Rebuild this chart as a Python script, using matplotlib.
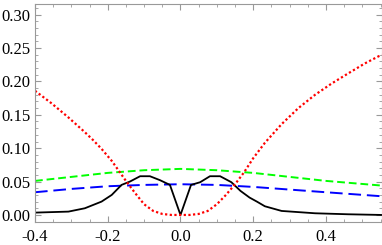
import matplotlib
matplotlib.use("Agg")
import matplotlib.pyplot as plt
from matplotlib.ticker import MultipleLocator, FormatStrFormatter

# values
x_red = [-0.4, -0.354, -0.308, -0.263, -0.24, -0.217, -0.189, -0.172, -0.15, -0.125,
         -0.1, -0.075, -0.05, -0.025, 0.0, 0.025, 0.05, 0.075, 0.1, 0.125, 0.15,
         0.175, 0.2, 0.232, 0.278, 0.324, 0.370, 0.416, 0.461, 0.507, 0.553]
y_red = [0.186, 0.167, 0.146, 0.124, 0.112, 0.099, 0.081, 0.068, 0.051, 0.033,
         0.016, 0.006, 0.0015, 0.0, 0.0, 0.0, 0.0015, 0.006, 0.016, 0.030, 0.046,
         0.064, 0.085, 0.108, 0.136, 0.160, 0.180, 0.197, 0.212, 0.227, 0.240]

x_black = [-0.4, -0.308, -0.263, -0.217, -0.189, -0.162, -0.139, -0.111, -0.084,
           -0.056, -0.029, 0.0, 0.029, 0.054, 0.081, 0.109, 0.14, 0.165, 0.19,
           0.21, 0.232, 0.278, 0.370, 0.461, 0.553]
y_black = [0.0035, 0.005, 0.010, 0.020, 0.030, 0.045, 0.050, 0.058, 0.058,
           0.052, 0.045, 0.0, 0.045, 0.049, 0.058, 0.058, 0.049, 0.036, 0.026,
           0.020, 0.013, 0.006, 0.0025, 0.001, 0.0]

x_green = [-0.4, -0.3, -0.2, -0.1, 0.0, 0.1, 0.2, 0.3, 0.4, 0.553]
y_green = [0.051, 0.057, 0.063, 0.067, 0.069, 0.067, 0.063, 0.057, 0.051, 0.044]

x_blue = [-0.4, -0.3, -0.2, -0.1, 0.0, 0.1, 0.2, 0.3, 0.4, 0.553]
y_blue = [0.034, 0.039, 0.043, 0.045, 0.046, 0.045, 0.042, 0.038, 0.034, 0.028]

plt.rcParams["font.family"] = ["Liberation Serif", "DejaVu Serif"]

fig = plt.figure(figsize=(3.82, 2.45), dpi=100)
ax = fig.add_axes([0.0916, 0.0927, 0.9074, 0.891])

ax.plot(x_green, y_green, color=(0, 1, 0), lw=1.4, dashes=(4, 2))
ax.plot(x_blue, y_blue, color=(0, 0, 1), lw=1.4, dashes=(6.5, 3))
ax.plot(x_black, y_black, color="black", lw=1.3)
ax.plot(x_red, y_red, color=(1, 0, 0), lw=1.6, dashes=(1, 1.1), dash_capstyle="butt")

ax.set_xlim(-0.4, 0.553)
ax.set_ylim(-0.011, 0.316)

ax.xaxis.set_major_locator(MultipleLocator(0.2))
ax.xaxis.set_minor_locator(MultipleLocator(0.05))
ax.yaxis.set_major_locator(MultipleLocator(0.05))
ax.yaxis.set_minor_locator(MultipleLocator(0.01))
ax.xaxis.set_major_formatter(FormatStrFormatter("%.1f"))
ax.yaxis.set_major_formatter(FormatStrFormatter("%.2f"))

ax.tick_params(which="both", direction="in", top=True, right=True,
               color="#999999", labelsize=12)
ax.tick_params(axis="x", pad=4.5)
ax.tick_params(axis="y", pad=3)
ax.tick_params(which="major", length=4, width=0.8)
ax.tick_params(which="minor", length=2, width=0.6)
for sp in ax.spines.values():
    sp.set_color("#999999")
    sp.set_linewidth(0.8)

fig.savefig("out.png", dpi=100)
